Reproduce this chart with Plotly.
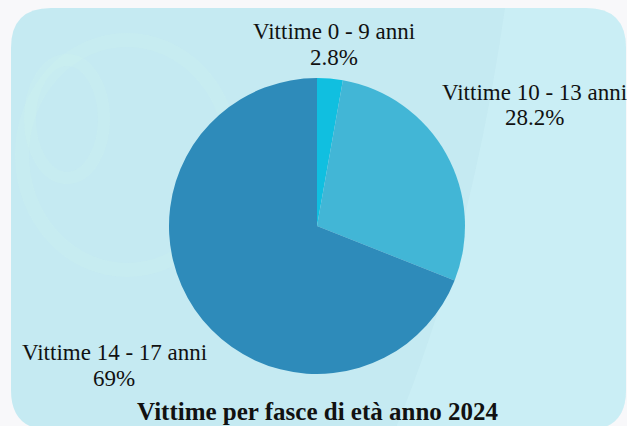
import plotly.graph_objects as go

categories = ["Vittime 0 - 9 anni", "Vittime 10 - 13 anni", "Vittime 14 - 17 anni"]
percentages = [2.8, 28.2, 69]
colors = ["#10bfe0", "#42b6d6", "#2e8bba"]
title_text = "Vittime per fasce di età anno 2024"

W, H = 627, 426
cx, cy, r = 317, 226, 148

fig = go.Figure(go.Pie(
    labels=categories,
    values=percentages,
    sort=False,
    direction="clockwise",
    rotation=0,
    textinfo="none",
    hoverinfo="label+percent",
    marker=dict(colors=colors, line=dict(width=0)),
    showlegend=False,
    domain=dict(x=[(cx - r) / W, (cx + r) / W], y=[(H - cy - r) / H, (H - cy + r) / H]),
))

# label positions (pixels: center x, y of line 1 and line 2)
label_pos = [(334, 32, 58), (534, 92, 117), (114, 352, 378)]
font_lbl = dict(family="Liberation Serif", size=23, color="#111111")
for cat, val, (lx, ly1, ly2) in zip(categories, percentages, label_pos):
    fig.add_annotation(
        text=cat, x=lx / W, y=1 - ly1 / H, xref="paper", yref="paper",
        xanchor="center", yanchor="middle", showarrow=False, font=font_lbl,
    )
    fig.add_annotation(
        text=f"{val:g}%", x=lx / W, y=1 - ly2 / H, xref="paper", yref="paper",
        xanchor="center", yanchor="middle", showarrow=False, font=font_lbl,
    )

fig.add_annotation(
    text=f"<b>{title_text}</b>", x=318 / W, y=1 - 411 / H, xref="paper", yref="paper",
    xanchor="center", yanchor="middle", showarrow=False,
    font=dict(family="Liberation Serif", size=25, color="#111111"),
)

def P(x, y):
    return f"{x / W:.5f},{1 - y / H:.5f}"

# rounded background panel
x0, y0, x1, y1, rr = 11, 8, 626, 430, 40
path = (f"M {P(x0 + rr, y0)} L {P(x1 - rr, y0)} Q {P(x1, y0)} {P(x1, y0 + rr)} "
        f"L {P(x1, y1 - rr)} Q {P(x1, y1)} {P(x1 - rr, y1)} L {P(x0 + rr, y1)} "
        f"Q {P(x0, y1)} {P(x0, y1 - rr)} L {P(x0, y0 + rr)} Q {P(x0, y0)} {P(x0 + rr, y0)} Z")
fig.add_shape(type="path", path=path, xref="paper", yref="paper",
              fillcolor="#c5eaf2", line=dict(width=0), layer="below")

# lighter right-hand band of the panel
band = (f"M {P(505, y0)} L {P(x1 - rr, y0)} Q {P(x1, y0)} {P(x1, y0 + rr)} "
        f"L {P(x1, y1 - rr)} Q {P(x1, y1)} {P(x1 - rr, y1)} L {P(395, y1)} "
        f"Q {P(470, 250)} {P(505, y0)} Z")
fig.add_shape(type="path", path=band, xref="paper", yref="paper",
              fillcolor="rgba(215,248,252,0.3)", line=dict(width=0), layer="below")

# very faint watermark shapes (below the pie)
fig.add_shape(type="circle", xref="paper", yref="paper",
              x0=22 / W, x1=232 / W, y0=1 - 270 / H, y1=1 - 40 / H,
              line=dict(color="rgba(210,248,238,0.22)", width=14), layer="below")
fig.add_shape(type="circle", xref="paper", yref="paper",
              x0=30 / W, x1=104 / W, y0=1 - 178 / H, y1=1 - 60 / H,
              line=dict(color="rgba(210,248,238,0.22)", width=12), layer="below")

fig.update_layout(
    width=W, height=H,
    margin=dict(l=0, r=0, t=0, b=0),
    paper_bgcolor="#f8f8fa",
    plot_bgcolor="rgba(0,0,0,0)",
)

fig.write_html(
    "out.html",
    config={"displayModeBar": False},
    post_script="document.body.style.margin='0';document.body.style.overflow='hidden';",
)
